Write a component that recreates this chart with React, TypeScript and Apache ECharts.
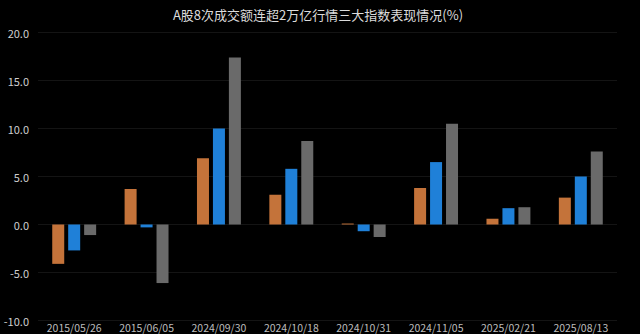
import React, { useEffect, useRef } from "react";
import * as echarts from "echarts";

const categories = [
  "2015/05/26",
  "2015/06/05",
  "2024/09/30",
  "2024/10/18",
  "2024/10/31",
  "2024/11/05",
  "2025/02/21",
  "2025/08/13",
];
const seriesA = [-4.1, 3.7, 6.9, 3.1, 0.1, 3.8, 0.6, 2.8];
const seriesB = [-2.7, -0.3, 10.0, 5.8, -0.7, 6.5, 1.7, 5.0];
const seriesC = [-1.1, -6.1, 17.4, 8.7, -1.3, 10.5, 1.8, 7.6];
const seriesNames = ["上证指数", "深证成指", "创业板指"];
const colors = ["#c4733a", "#1f80d8", "#6a6a6a"];
const title = "A股8次成交额连超2万亿行情三大指数表现情况(%)";

export default function App() {
  const ref = useRef<HTMLDivElement>(null);
  useEffect(() => {
    if (!ref.current) return;
    const chart = echarts.init(ref.current, null, { renderer: "svg" });
    const font = "'Noto Sans CJK SC', 'Noto Sans', sans-serif";
    chart.setOption({
      animation: false,
      backgroundColor: "#000000",
      title: {
        text: title,
        left: 313,
        textAlign: "center",
        top: 3,
        textStyle: { color: "#dcdcdc", fontSize: 13, fontWeight: "normal", fontFamily: font },
      },
      grid: { left: 38, right: 23, top: 32.5, bottom: 13.5, containLabel: false },
      xAxis: {
        type: "category",
        data: categories,
        axisLine: { show: false },
        axisTick: { show: false },
        axisLabel: {
          color: "#bdbdbd",
          fontSize: 10.5,
          lineHeight: 12,
          fontFamily: font,
          margin: 0.5,
          interval: 0,
        },
        splitLine: { show: false },
      },
      yAxis: {
        type: "value",
        min: -10,
        max: 20,
        interval: 5,
        axisLine: { show: false },
        axisTick: { show: false },
        axisLabel: {
          color: "#cfcfcf",
          fontSize: 11,
          fontFamily: font,
          margin: 9,
          formatter: (v: number) => v.toFixed(1),
        },
        splitLine: { show: true, lineStyle: { color: "#141414", width: 1 } },
      },
      series: [seriesA, seriesB, seriesC].map((d, i) => ({
        name: seriesNames[i],
        type: "bar",
        data: d,
        barWidth: 12,
        barGap: "33%",
        itemStyle: { color: colors[i] },
      })),
    });
    return () => chart.dispose();
  }, []);
  return (
    <div
      ref={ref}
      style={{ position: "absolute", left: 0, top: 0, width: 640, height: 334 }}
    />
  );
}
